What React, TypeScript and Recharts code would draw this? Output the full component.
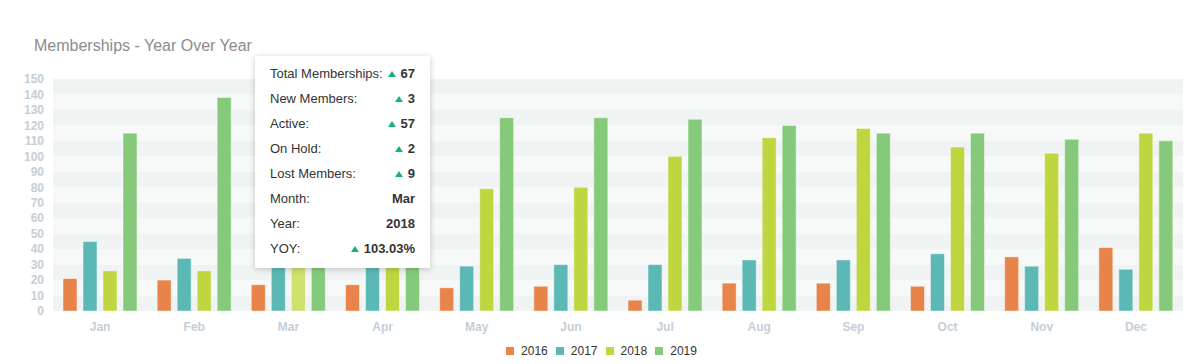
import React from 'react';
import { BarChart, Bar, XAxis, YAxis, CartesianGrid, Tooltip, Legend, Cell } from 'recharts';

const months = ['Jan', 'Feb', 'Mar', 'Apr', 'May', 'Jun', 'Jul', 'Aug', 'Sep', 'Oct', 'Nov', 'Dec'];
const y2016 = [21, 20, 17, 17, 15, 16, 7, 18, 18, 16, 35, 41];
const y2017 = [45, 34, 33, 32, 29, 30, 30, 33, 33, 37, 29, 27];
const y2018 = [26, 26, 67, 72, 79, 80, 100, 112, 118, 106, 102, 115];
const y2019 = [115, 138, 130, 125, 125, 125, 124, 120, 115, 115, 111, 110];
const yTicks = [0, 10, 20, 30, 40, 50, 60, 70, 80, 90, 100, 110, 120, 130, 140, 150];

const seriesNames = ['2016', '2017', '2018', '2019'];
const seriesColors = ['#E8844A', '#5CB8B5', '#BFD641', '#85CA7B'];
const highlightColor = '#CFE06C';

const tooltipLabels = ['Total Memberships:', 'New Members:', 'Active:', 'On Hold:', 'Lost Members:', 'Month:', 'Year:', 'YOY:'];
const tooltipValues = ['67', '3', '57', '2', '9', 'Mar', '2018', '103.03%'];
const tooltipArrows = [true, true, true, true, true, false, false, true];

const data = months.map((m, i) => ({
  month: m,
  '2016': y2016[i],
  '2017': y2017[i],
  '2018': y2018[i],
  '2019': y2019[i],
}));

const FONT = "'Liberation Sans', Arial, sans-serif";

const TooltipBox = () => (
  <div
    style={{
      width: 175,
      height: 212,
      boxSizing: 'border-box',
      background: '#fff',
      boxShadow: '0 1px 6px rgba(0,0,0,0.22)',
      padding: '5px 15px 0 15px',
      fontFamily: FONT,
      fontSize: 13,
      color: '#333',
    }}
  >
    {tooltipLabels.map((l, i) => (
      <div key={l} style={{ display: 'flex', justifyContent: 'space-between', height: 25, lineHeight: '25px', alignItems: 'center', whiteSpace: 'nowrap' }}>
        <span>{l}</span>
        <span style={{ fontWeight: 'bold', display: 'flex', alignItems: 'center' }}>
          {tooltipArrows[i] ? (
            <svg width={8} height={6} style={{ marginRight: 5 }}>
              <polygon points="0,6 4,0 8,6" fill="#19B27C" />
            </svg>
          ) : null}
          {tooltipValues[i]}
        </span>
      </div>
    ))}
  </div>
);

const LegendContent = () => (
  <div style={{ display: 'flex', justifyContent: 'center', alignItems: 'center', fontFamily: FONT, fontSize: 12, color: '#333', paddingLeft: 6 }}>
    {seriesNames.map((n, i) => (
      <div key={n} style={{ display: 'flex', alignItems: 'center', marginRight: i < 3 ? 8 : 0 }}>
        <span style={{ display: 'inline-block', width: 8, height: 8, background: seriesColors[i], marginRight: 7 }} />
        <span>{n}</span>
      </div>
    ))}
  </div>
);

export default function App() {
  return (
    <div style={{ position: 'relative', width: 1181, height: 348 }}>
      <div
        style={{
          position: 'absolute',
          left: 26,
          top: 29,
          fontFamily: FONT,
          fontSize: 16,
          lineHeight: '18px',
          color: '#8C8C8C',
          zIndex: 1,
        }}
      >
        Memberships - Year Over Year
      </div>
      <BarChart
        width={1181}
        height={348}
        data={data}
        margin={{ top: 71, right: 6, left: 0, bottom: 4 }}
        barSize={14}
        barGap={6}
      >
        <CartesianGrid
          vertical={false}
          horizontal={true}
          stroke="none"
          horizontalFill={['#EFF3F4', '#F7F9F9']}
        />
        <XAxis
          dataKey="month"
          axisLine={false}
          tickLine={false}
          tickMargin={5}
          height={25}
          tick={{ fill: '#C5CED6', fontSize: 12, fontWeight: 'bold', fontFamily: FONT }}
        />
        <YAxis
          domain={[0, 150]}
          ticks={yTicks}
          interval={0}
          axisLine={false}
          tickLine={false}
          tickMargin={3}
          width={45}
          tick={{ fill: '#C5CED6', fontSize: 12, fontWeight: 'bold', fontFamily: FONT }}
        />
        <Tooltip
          content={<TooltipBox />}
          defaultIndex={2}
          active={true}
          cursor={false}
          position={{ x: 247, y: 48 }}
          isAnimationActive={false}
          wrapperStyle={{ outline: 'none', zIndex: 5 }}
        />
        <Legend
          verticalAlign="bottom"
          content={<LegendContent />}
          wrapperStyle={{ top: 336, height: 16, left: 0, width: 1181 }}
        />
        {seriesNames.map((n, si) => (
          <Bar
            key={n}
            dataKey={n}
            fill={seriesColors[si]}
            stroke="rgba(255,255,255,0.45)"
            strokeWidth={1}
            isAnimationActive={false}
            activeBar={false}
          >
            {si === 2
              ? data.map((d, i) => <Cell key={d.month} fill={i === 2 ? highlightColor : seriesColors[si]} />)
              : null}
          </Bar>
        ))}
      </BarChart>
    </div>
  );
}
